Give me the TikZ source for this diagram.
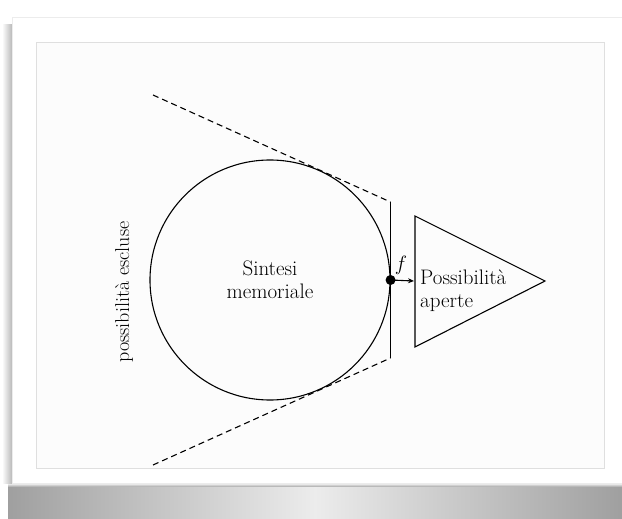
\documentclass[tikz,border=0pt]{standalone}
\usetikzlibrary{arrows.meta,positioning,calc}
\tikzset{
  memnode/.style={circle,draw=black,line width=1.1pt,minimum size=240pt,inner sep=0pt},
  labeltext/.style={font=\fontsize{21}{23}\selectfont,align=center,inner sep=0pt},
  tangent/.style={line width=1.1pt,dash pattern=on 6pt off 4pt},
  wall/.style={line width=0.8pt},
  pointnode/.style={circle,fill=black,inner sep=0pt,minimum size=10pt},
  arrow/.style={-{Stealth[length=6pt,width=5pt]},line width=1.1pt},
}

\begin{document}
\begin{tikzpicture}[x=1pt,y=-1pt]

  %% ── Card and frame ────────────────────────────────────────────────────────
  \useasboundingbox (0,0) rectangle (622,519);
  \fill[white] (0,0) rectangle (622,519);
  \shade[left color=gray!75,right color=gray!75,middle color=gray!15] (8,483) rectangle (622,519);
  \shade[top color=white,bottom color=gray!55] (8,483) rectangle (622,486);
  \shade[left color=white,right color=gray!55] (2,25) rectangle (12,483);
  \draw[gray!15,fill=white] (12,17) rectangle (622,483);
  \draw[gray!25,fill=gray!2] (36,42) rectangle (604,468);

  %% ── Memory synthesis ──────────────────────────────────────────────────────
  \node[memnode,labeltext] (mem) at (270,280) {Sintesi\\memoriale};
  \node[labeltext,font=\fontsize{20}{22}\selectfont,rotate=90] (escl) at (124,292) {possibilità escluse};

  %% ── Tangents and wall ─────────────────────────────────────────────────────
  \coordinate (ltop) at (153,95);
  \coordinate (lbot) at (153,465);
  \coordinate (wtop) at (390.5,202);
  \coordinate (wbot) at (390.5,358);
  \draw[tangent] (ltop) -- (wtop);
  \draw[tangent] (lbot) -- (wbot);
  \draw[wall] (wtop) -- (wbot);

  %% ── Open possibilities ────────────────────────────────────────────────────
  \coordinate (tritop) at (415,216);
  \coordinate (tritip) at (545,281);
  \coordinate (tribot) at (415,347);
  \coordinate (triin)  at (414,281);
  \draw[line width=1.1pt] (tritop) -- (tritip) -- (tribot) -- cycle;
  \node[labeltext,align=left,anchor=west] (aperte) at (420,291) {Possibilità\\aperte};

  %% ── Point and arrow ───────────────────────────────────────────────────────
  \node[pointnode] (pt) at (mem.east) {};
  \draw[arrow] (pt.center) -- (triin);
  \node[font=\fontsize{21}{23}\selectfont] (flab) at (401,265) {$f$};

\end{tikzpicture}
\end{document}
